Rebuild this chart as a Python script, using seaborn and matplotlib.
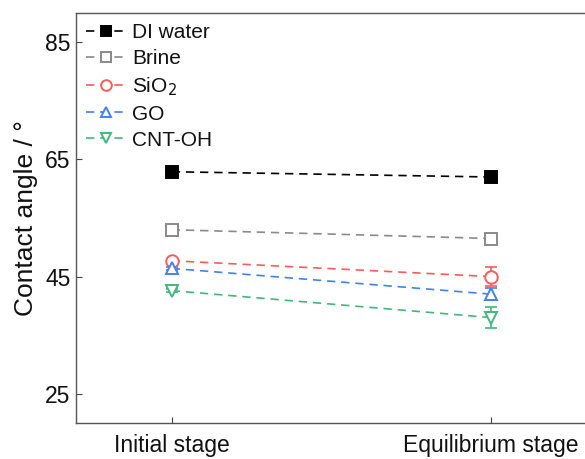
import matplotlib
matplotlib.use("Agg")
import matplotlib.pyplot as plt
import seaborn as sns
import pandas as pd

# Contact angle at the two stages for each fluid
stages = ["Initial stage", "Equilibrium stage"]
series = ["DI water", "Brine", "SiO$_2$", "GO", "CNT-OH"]
di_water = [62.9, 62.0]
brine = [53.0, 51.5]
sio2 = [47.7, 45.0]
go = [46.4, 42.0]
cnt_oh = [42.6, 38.0]
# standard deviations
di_water_err = [0.3, 0.6]
brine_err = [0.5, 0.4]
sio2_err = [0.3, 1.6]
go_err = [0.3, 1.0]
cnt_oh_err = [0.3, 1.8]
y_ticks = [25, 45, 65, 85]

values = [di_water, brine, sio2, go, cnt_oh]
errors = [di_water_err, brine_err, sio2_err, go_err, cnt_oh_err]
colors = ["#000000", "#8a8a8a", "#ff5a5a", "#3f82f0", "#3dba7c"]
markers = ["s", "s", "o", "^", "v"]
filled = [True, False, False, False, False]

sns.set_theme(style="ticks")
plt.rcParams["font.family"] = ["Liberation Sans", "DejaVu Sans"]

fig = plt.figure(figsize=(5.85, 4.59), dpi=100)
ax = fig.add_axes([76 / 585, 1 - 423 / 459, (586.5 - 76) / 585, (423 - 13) / 459])

xpos = list(range(len(stages)))
for name, vals, errs, col, mk, fill in zip(series, values, errors, colors, markers, filled):
    df = pd.DataFrame({"stage": xpos, "angle": vals})
    ax.errorbar(xpos, vals, yerr=errs, fmt="none", ecolor=col, elinewidth=1.2,
                capsize=4, capthick=1.2, zorder=2)
    sns.lineplot(data=df, x="stage", y="angle", ax=ax, color=col, marker=mk,
                 markersize=9, markeredgewidth=1.4, markeredgecolor=col,
                 markerfacecolor=col if fill else "white",
                 linestyle=(0, (5, 3.5)), linewidth=1.2, label=name, zorder=3)

ax.set_xlim(-0.3, 1.3)
ax.set_ylim(20, 90)
ax.set_xticks(xpos)
ax.set_xticklabels(stages)
ax.set_yticks(y_ticks)
ax.set_xlabel("")
ax.set_ylabel("Contact angle / °", fontsize=19, color="#111111", labelpad=5)
ax.tick_params(axis="both", direction="in", length=4, width=0.8, colors="#444444",
               labelsize=16.5, labelcolor="#111111")
ax.tick_params(axis="x", pad=8)
ax.tick_params(axis="y", pad=4)
for sp in ax.spines.values():
    sp.set_color("#555555")
    sp.set_linewidth(1.0)

leg = ax.legend(loc="upper left", frameon=False, fontsize=15, handlelength=1.9,
                handletextpad=0.3, labelspacing=0.33, borderaxespad=0.1,
                bbox_to_anchor=(0.0, 1.0), markerscale=0.85)
for txt in leg.get_texts():
    txt.set_color("#111111")

fig.savefig("out.png", dpi=100)
